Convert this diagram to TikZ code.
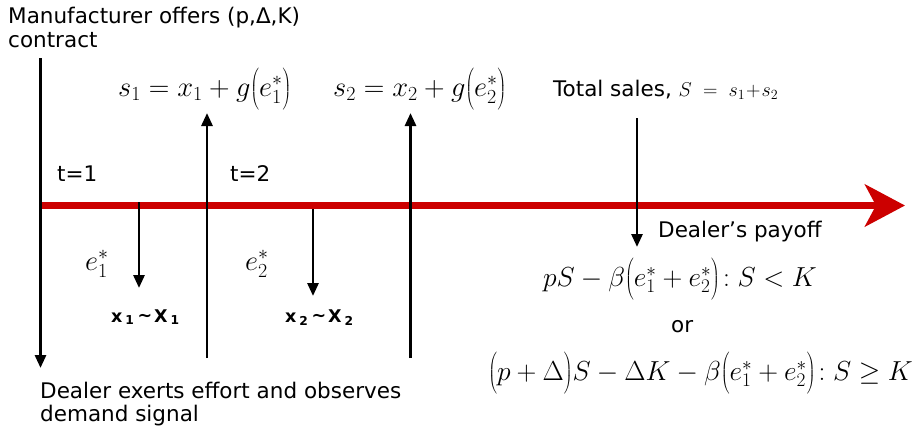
\RequirePackage{fix-cm}
\documentclass[tikz,border=0pt]{standalone}
\usepackage{fontspec}
\setmainfont{DejaVu Sans}
\usetikzlibrary{arrows.meta}
\definecolor{tlred}{RGB}{204,0,0}
\newcommand\tallstrut{\rule[-9pt]{0pt}{39pt}}
\newcommand\bparen[1]{{\left(\tallstrut #1\right)}}
\begin{document}
\begin{tikzpicture}[x=1pt,y=-1pt,
  lbl/.style={inner sep=0pt, anchor=base west, font=\fontsize{21.5}{24}\selectfont},
  eq/.style={inner sep=0pt, anchor=base west, font=\fontsize{28.5}{30}\selectfont},
  peq/.style={inner sep=0pt, anchor=base west, font=\fontsize{27.5}{30}\selectfont},
  bx/.style={inner sep=0pt, anchor=base west, font=\fontsize{17.5}{20}\selectfont\bfseries},
  blk/.style={line width=2.8pt, -{Triangle[length=13pt,width=11pt]}},
]
\useasboundingbox (0,0) rectangle (918,432);
% timeline
\coordinate (tl0) at (40,205.5);
\coordinate (tlE) at (905,205.5);
\draw[line width=7.5pt, tlred, -{Stealth[length=40pt,width=42pt,inset=11pt]}] (tl0) -- (tlE);
% vertical lines
\coordinate (vL0) at (40.5,58);   \coordinate (vL1) at (40.5,368);
\coordinate (vA0) at (207,358);   \coordinate (vA1) at (207,113);
\coordinate (vB0) at (410.5,358); \coordinate (vB1) at (410.5,113);
\coordinate (d10) at (139,202);   \coordinate (d11) at (139,288);
\coordinate (d20) at (313,209);   \coordinate (d21) at (313,296);
\coordinate (d30) at (637,118);   \coordinate (d31) at (637,247);
\draw[blk] (vL0) -- (vL1);
\draw[blk] (vA0) -- (vA1);
\draw[blk] (vB0) -- (vB1);
\draw[blk] (d10) -- (d11);
\draw[blk] (d20) -- (d21);
\draw[blk] (d30) -- (d31);
% texts
\node[lbl] (mfr) at (8,23) {Manufacturer offers (p,Δ,K)};
\node[lbl] (mfr2) at (8,47) {contract};
\node[lbl] (t1) at (57,181) {t=1};
\node[lbl] (t2) at (230,181) {t=2};
\node[lbl] (dealer) at (40,398) {Dealer exerts effort and observes};
\node[lbl] (dealer2) at (40,421) {demand signal};
\node[lbl] (payoff) at (658,237) {Dealer’s payoff};
\node[lbl] (or) at (671,332) {or};
\node[lbl] (total) at (553,96) {Total sales, {\fontsize{20}{22}\selectfont$S\;=\;s_{1}\!+\!s_{2}$}};
\node[eq] (s1) at (118,96) {$s_1=x_1+g\bparen{e_1^{*}}$};
\node[eq] (s2) at (333,96) {$s_2=x_2+g\bparen{e_2^{*}}$};
\node[eq] (e1) at (85,270) {$e_1^{*}$};
\node[eq] (e2) at (245,270) {$e_2^{*}$};
\node[bx] (x1) at (111,322) {x\hspace{3pt}\textsubscript{1}\hspace{3pt}\raisebox{1pt}{\textasciitilde}\hspace{2pt}X\hspace{3pt}\textsubscript{1}};
\node[bx] (x2) at (285,322) {x\hspace{3pt}\textsubscript{2}\hspace{3pt}\raisebox{1pt}{\textasciitilde}\hspace{2pt}X\hspace{3pt}\textsubscript{2}};
\node[peq] (p1) at (543,286) {$pS-\beta\bparen{e_1^{*}+e_2^{*}}\!:S<K$};
\node[peq, anchor=base east] (p2) at (913,380) {$\bparen{p+\Delta}S-\Delta K-\beta\bparen{e_1^{*}+e_2^{*}}\!:S\geq K$};
\end{tikzpicture}
\end{document}
